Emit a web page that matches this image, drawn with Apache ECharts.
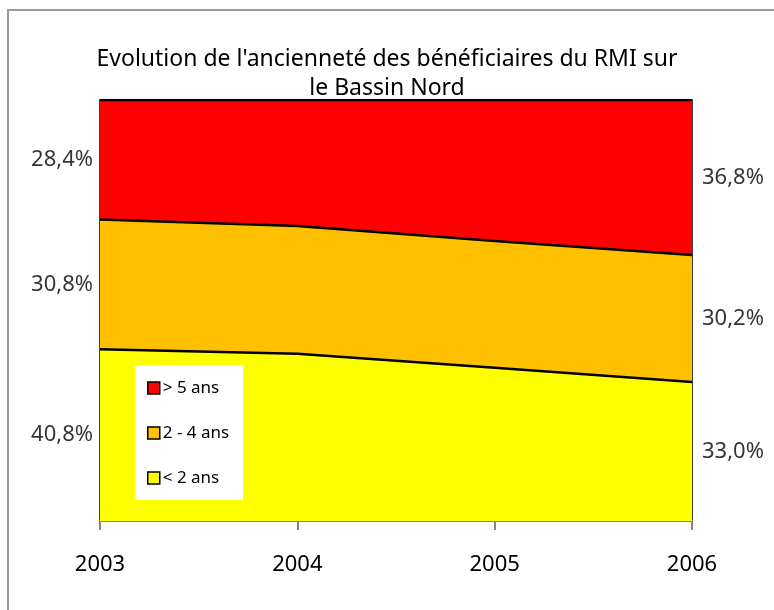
<!DOCTYPE html>
<html lang="fr">
<head>
    <meta charset="UTF-8">
    <title>Ancienneté RMI</title>
    <script src="https://cdn.jsdelivr.net/npm/echarts@6/dist/echarts.min.js"></script>
    <style>
        html, body { margin: 0; padding: 0; background: #fff; }
        #main { width: 774px; height: 610px; }
    </style>
</head>
<body>
<div id="main"></div>
<script>
    // données (en %)
    var annees = ['2003', '2004', '2005', '2006'];
    var moins2 = [40.8, 39.7, 36.4, 33.0];   // < 2 ans
    var de2a4 = [30.8, 30.4, 30.1, 30.2];    // 2 - 4 ans
    var plus5 = [28.4, 29.9, 33.5, 36.8];    // > 5 ans
    var noms = ['< 2 ans', '2 - 4 ans', '> 5 ans'];
    var couleurs = ['#ffff00', '#ffc000', '#ff0000'];

    var police = 'Noto Sans';
    var series = [moins2, de2a4, plus5];

    function fmt(v) {
        return v.toFixed(1).replace('.', ',') + '%';
    }

    var option = {
        animation: false,
        textStyle: { fontFamily: police },
        title: {
            text: "Evolution de l'ancienneté des bénéficiaires du RMI sur\nle Bassin Nord",
            left: 'center',
            top: 40,
            textStyle: { fontSize: 23, fontWeight: 'normal', color: '#000', lineHeight: 29, fontFamily: police }
        },
        legend: {
            data: ['> 5 ans', '2 - 4 ans', '< 2 ans'],
            orient: 'vertical',
            left: 135,
            top: 365,
            padding: [13, 14, 12, 12],
            itemGap: 25,
            itemWidth: 12,
            itemHeight: 12,
            icon: 'rect',
            backgroundColor: '#fff',
            textStyle: { fontSize: 17, lineHeight: 20, color: '#000', padding: [0, 0, 0, -2] },
            itemStyle: { borderColor: '#000', borderWidth: 1.5 }
        },
        grid: {
            left: 100, right: 82, top: 100, bottom: 89,
            show: true, borderColor: '#000', borderWidth: 1.5
        },
        xAxis: {
            type: 'category',
            data: annees,
            boundaryGap: false,
            axisLine: { lineStyle: { color: '#888', width: 2 } },
            axisTick: { show: true, length: 9, lineStyle: { color: '#888', width: 2 } },
            axisLabel: { fontSize: 22, color: '#000', margin: 33 },
            splitLine: { show: false }
        },
        yAxis: {
            type: 'value', min: 0, max: 100, show: false
        },
        graphic: [{
            type: 'polyline',
            shape: { points: [[8, 610], [8, 10], [774, 10]] },
            style: { stroke: '#999', lineWidth: 2, fill: null }
        }],
        series: []
    };

    series.forEach(function (vals, i) {
        option.series.push({
            name: noms[i],
            type: 'line',
            stack: 'total',
            data: vals,
            symbol: 'none',
            lineStyle: { color: '#000', width: 2.5 },
            itemStyle: { color: couleurs[i] },
            areaStyle: { color: couleurs[i], opacity: 1 },
            z: 2
        });
    });

    // étiquettes de valeur au milieu de chaque bande, à gauche (2003) et à droite (2006)
    var dernier = annees.length - 1;
    var cumulG = 0, cumulD = 0;
    series.forEach(function (vals, i) {
        var g = cumulG + vals[0] / 2;
        var d = cumulD + vals[dernier] / 2;
        cumulG += vals[0];
        cumulD += vals[dernier];
        option.series.push({
            type: 'scatter',
            symbolSize: 0,
            silent: true,
            z: 5,
            data: [
                { value: [0, g], txt: fmt(vals[0]), label: { position: 'left', distance: 7 } },
                { value: [dernier, d], txt: fmt(vals[dernier]), label: { position: 'right', distance: 10 } }
            ],
            label: {
                show: true,
                fontSize: 22,
                color: '#000',
                formatter: function (p) { return p.data.txt; }
            }
        });
    });

    var chart = echarts.init(document.getElementById('main'));
    chart.setOption(option);
</script>
</body>
</html>
